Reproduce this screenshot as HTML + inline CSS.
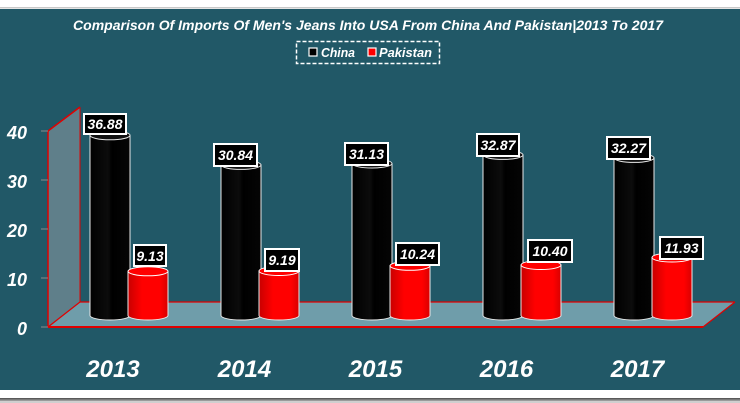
<!DOCTYPE html>
<html><head><meta charset="utf-8"><style>
html,body{margin:0;padding:0;background:#fff;}
svg{display:block;}
text{font-family:"Liberation Sans",Arial,sans-serif;font-weight:bold;font-style:italic;fill:#fff;}
</style></head><body>
<svg width="740" height="403" viewBox="0 0 740 403" xmlns="http://www.w3.org/2000/svg">
<defs>
<linearGradient id="gb" x1="0" x2="1" y1="0" y2="0">
<stop offset="0" stop-color="#000"/><stop offset="0.45" stop-color="#0c0c0c"/><stop offset="0.55" stop-color="#000"/><stop offset="1" stop-color="#050505"/>
</linearGradient>
<linearGradient id="gr" x1="0" x2="1" y1="0" y2="0">
<stop offset="0" stop-color="#c80000"/><stop offset="0.35" stop-color="#ff0000"/><stop offset="0.8" stop-color="#ff0000"/><stop offset="1" stop-color="#d80000"/>
</linearGradient>
</defs>
<rect x="0" y="0" width="740" height="403" fill="#fff"/>
<rect x="0" y="7" width="740" height="1.5" fill="#c8c8c8"/>
<rect x="0" y="9" width="740" height="381" fill="#215867"/>
<rect x="0" y="398" width="740" height="1.5" fill="#5a5a5a"/>
<rect x="0" y="399.5" width="740" height="1.5" fill="#9a9a9a"/>
<rect x="0" y="401" width="740" height="2" fill="#cfcfcf"/>

<text x="368" y="30" font-size="14" text-anchor="middle" textLength="590" lengthAdjust="spacingAndGlyphs">Comparison Of Imports Of Men's Jeans Into USA From China And Pakistan|2013 To 2017</text>

<rect x="296.5" y="41.5" width="143" height="22" fill="none" stroke="#fff" stroke-width="1.5" stroke-dasharray="4,2"/>
<rect x="309" y="48" width="8" height="8" fill="#000" stroke="#fff" stroke-width="1.2"/>
<text x="321" y="57" font-size="12.5" textLength="34" lengthAdjust="spacingAndGlyphs">China</text>
<rect x="368" y="48" width="8" height="8" fill="#f00" stroke="#fff" stroke-width="1.2"/>
<text x="379" y="57" font-size="12.5" textLength="53" lengthAdjust="spacingAndGlyphs">Pakistan</text>

<!-- side wall -->
<polygon points="48,131 80,107 80,302 48,327" fill="#5f7f8a"/>
<!-- floor -->
<polygon points="48,327 80,302 735,302 703,327" fill="#6f9daa"/>
<g stroke="#e00000" fill="none">
<line x1="48" y1="131" x2="80" y2="107" stroke-width="1.5"/>
<line x1="80" y1="107" x2="80" y2="302" stroke-width="1"/>
<line x1="48" y1="131" x2="48" y2="327" stroke-width="1.5"/>
<line x1="80" y1="302" x2="735" y2="302" stroke-width="1.2"/>
<line x1="48" y1="327" x2="80" y2="302" stroke-width="1.2"/>
<line x1="735" y1="302" x2="703" y2="327" stroke-width="1.2"/>
<line x1="48" y1="327" x2="703" y2="327" stroke-width="2"/>
</g>
<g stroke="#8a8a8a" stroke-width="1">
<line x1="41" y1="131" x2="48" y2="131"/><line x1="41" y1="180" x2="48" y2="180"/><line x1="41" y1="229" x2="48" y2="229"/><line x1="41" y1="278" x2="48" y2="278"/><line x1="41" y1="327" x2="48" y2="327"/>
</g>
<g font-size="18" text-anchor="end">
<text x="27" y="139">40</text><text x="27" y="188">30</text><text x="27" y="237">20</text><text x="27" y="286">10</text><text x="27" y="335">0</text>
</g>

<!-- bars -->
<g stroke="#e8e8e8" stroke-width="1">
<!-- 2013 -->
<path d="M90,135.3 L90,315.5 A20,4.5 0 0 0 130,315.5 L130,135.3 Z" fill="url(#gb)"/>
<ellipse cx="110" cy="135.3" rx="20" ry="4.5" fill="#111"/>
<path d="M128,271.3 L128,315.5 A20,4.5 0 0 0 168,315.5 L168,271.3 Z" fill="url(#gr)"/>
<ellipse cx="148" cy="271.3" rx="20" ry="4.5" fill="#f00" stroke="#fff"/>
<!-- 2014 -->
<path d="M221,164.9 L221,315.5 A20,4.5 0 0 0 261,315.5 L261,164.9 Z" fill="url(#gb)"/>
<ellipse cx="241" cy="164.9" rx="20" ry="4.5" fill="#111"/>
<path d="M259,271 L259,315.5 A20,4.5 0 0 0 299,315.5 L299,271 Z" fill="url(#gr)"/>
<ellipse cx="279" cy="271" rx="20" ry="4.5" fill="#f00" stroke="#fff"/>
<!-- 2015 -->
<path d="M352,163.5 L352,315.5 A20,4.5 0 0 0 392,315.5 L392,163.5 Z" fill="url(#gb)"/>
<ellipse cx="372" cy="163.5" rx="20" ry="4.5" fill="#111"/>
<path d="M390,265.8 L390,315.5 A20,4.5 0 0 0 430,315.5 L430,265.8 Z" fill="url(#gr)"/>
<ellipse cx="410" cy="265.8" rx="20" ry="4.5" fill="#f00" stroke="#fff"/>
<!-- 2016 -->
<path d="M483,154.9 L483,315.5 A20,4.5 0 0 0 523,315.5 L523,154.9 Z" fill="url(#gb)"/>
<ellipse cx="503" cy="154.9" rx="20" ry="4.5" fill="#111"/>
<path d="M521,265 L521,315.5 A20,4.5 0 0 0 561,315.5 L561,265 Z" fill="url(#gr)"/>
<ellipse cx="541" cy="265" rx="20" ry="4.5" fill="#f00" stroke="#fff"/>
<!-- 2017 -->
<path d="M614,157.9 L614,315.5 A20,4.5 0 0 0 654,315.5 L654,157.9 Z" fill="url(#gb)"/>
<ellipse cx="634" cy="157.9" rx="20" ry="4.5" fill="#111"/>
<path d="M652,257.5 L652,315.5 A20,4.5 0 0 0 692,315.5 L692,257.5 Z" fill="url(#gr)"/>
<ellipse cx="672" cy="257.5" rx="20" ry="4.5" fill="#f00" stroke="#fff"/>
</g>

<!-- labels -->
<g stroke="#fff" stroke-width="2" fill="#000">
<rect x="84" y="114" width="42" height="20"/>
<rect x="134" y="245" width="32" height="21"/>
<rect x="214" y="144" width="43" height="22"/>
<rect x="265" y="249" width="34" height="22"/>
<rect x="345" y="143" width="43" height="22"/>
<rect x="396" y="243" width="43" height="22"/>
<rect x="477" y="134" width="42" height="22"/>
<rect x="528" y="240" width="44" height="22"/>
<rect x="607" y="137" width="43" height="22"/>
<rect x="660" y="237" width="43" height="22"/>
</g>
<g font-size="14" text-anchor="middle">
<text x="105" y="129">36.88</text>
<text x="150" y="261">9.13</text>
<text x="235.5" y="160">30.84</text>
<text x="282" y="265">9.19</text>
<text x="366.5" y="159">31.13</text>
<text x="417.5" y="259">10.24</text>
<text x="498" y="150">32.87</text>
<text x="550" y="256">10.40</text>
<text x="628.5" y="153">32.27</text>
<text x="681.5" y="253">11.93</text>
</g>

<g font-size="24" text-anchor="middle">
<text x="113" y="377">2013</text>
<text x="244.5" y="377">2014</text>
<text x="375.5" y="377">2015</text>
<text x="506.5" y="377">2016</text>
<text x="637.5" y="377">2017</text>
</g>
</svg>
</body></html>
